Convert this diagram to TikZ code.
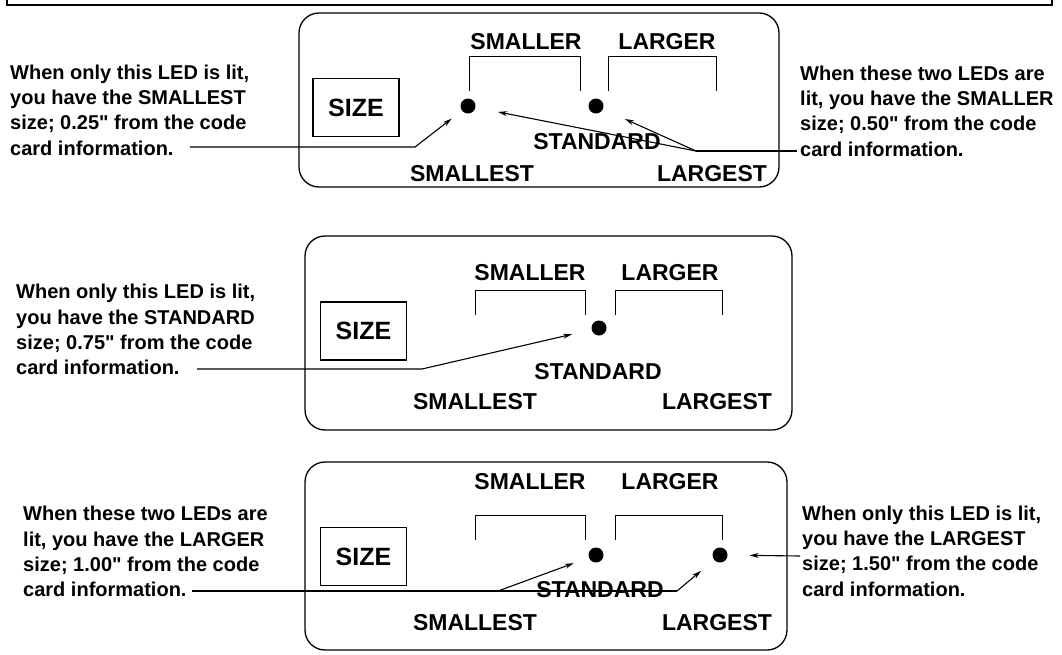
\documentclass[tikz,border=0pt]{standalone}
\usepackage{fontspec}
\setmainfont{Liberation Sans}[Ligatures=TeXOff]
\usetikzlibrary{arrows.meta}
\begin{document}
\begin{tikzpicture}[x=1pt,y=-1pt,
  panel/.style={draw, line width=1.3pt, rounded corners=20pt},
  sizebox/.style={draw, line width=1.2pt, minimum width=86pt, minimum height=58pt, font=\fontsize{25}{30}\selectfont\bfseries, inner sep=0pt},
  lbl/.style={font=\fontsize{23}{28}\selectfont\bfseries, inner sep=0pt},
  info/.style={font=\fontsize{20}{25.3}\selectfont\bfseries, align=left, anchor=west, inner sep=0pt},
  led/.style={circle, fill, inner sep=0pt, minimum size=15pt},
  brk/.style={line width=1pt},
  wire/.style={line width=1.1pt},
  ptr/.style={wire, -{Stealth[length=9pt,width=5pt]}},
]
\useasboundingbox (0,0) rectangle (1062,654);
% top frame remnant
\draw[line width=1.2pt] (7,0) -- (7,5) -- (1052,5) -- (1052,0);

% ---------- Panel 1 ----------
\draw[panel] (299,13) rectangle (779,187);
\node[sizebox] (s1) at (356,107.5) {SIZE};
\node[lbl] (sm1) at (526,42) {SMALLER};
\node[lbl] (la1) at (667,42) {LARGER};
\draw[brk] (469,91) -- (469,56) -- (580,56) -- (580,91);
\draw[brk] (608,91) -- (608,56) -- (716,56) -- (716,91);
\node[led] (d11) at (468,106) {};
\node[led] (d12) at (596,106) {};
\node[lbl] (st1) at (597,142) {STANDARD};
\node[lbl] (ss1) at (472,174) {SMALLEST};
\node[lbl] (lg1) at (712,174) {LARGEST};
\node[info] (t1) at (10,110) {When only this LED is lit,\\you have the SMALLEST\\size; 0.25" from the code\\card information.};
\node[info] (t2) at (800,111) {When these two LEDs are\\lit, you have the SMALLER\\size; 0.50" from the code\\card information.};
\coordinate (c1a) at (190,147);
\coordinate (c1b) at (415,147);
\coordinate (c1j) at (696,151);
\coordinate (c1r) at (797,151);
\draw[ptr, shorten >=13pt] (c1a) -- (c1b) -- (d11);
\draw[wire] (c1r) -- (c1j);
\draw[ptr, shorten >=23pt] (c1j) -- (d11);
\draw[ptr, shorten >=24pt] (c1j) -- (d12);

% ---------- Panel 2 ----------
\draw[panel] (305,236) rectangle (792,430);
\node[sizebox] (s2) at (363.5,331) {SIZE};
\node[lbl] (sm2) at (530,273) {SMALLER};
\node[lbl] (la2) at (670,273) {LARGER};
\draw[brk] (475,315) -- (475,290) -- (585,290) -- (585,315);
\draw[brk] (615,315) -- (615,290) -- (722,290) -- (722,315);
\node[led] (d2) at (599,328) {};
\node[lbl] (st2) at (598,372) {STANDARD};
\node[lbl] (ss2) at (475,402) {SMALLEST};
\node[lbl] (lg2) at (717,402) {LARGEST};
\node[info] (t3) at (16,329.5) {When only this LED is lit,\\you have the STANDARD\\size; 0.75" from the code\\card information.};
\coordinate (c2a) at (197,369);
\coordinate (c2b) at (422,369);
\draw[ptr, shorten >=20pt] (c2a) -- (c2b) -- (d2);

% ---------- Panel 3 ----------
\draw[panel] (305,462) rectangle (787,650);
\node[sizebox] (s3) at (363.5,556.5) {SIZE};
\node[lbl] (sm3) at (530,482) {SMALLER};
\node[lbl] (la3) at (670,482) {LARGER};
\draw[brk] (475,540) -- (475,515) -- (585,515) -- (585,540);
\draw[brk] (615,540) -- (615,515) -- (722,515) -- (722,540);
\node[led] (d31) at (596,555) {};
\node[led] (d32) at (720,555) {};
\node[lbl] (st3) at (600,590) {STANDARD};
\node[lbl] (ss3) at (475,623) {SMALLEST};
\node[lbl] (lg3) at (717,623) {LARGEST};
\node[info] (t4) at (23,551.5) {When these two LEDs are\\lit, you have the LARGER\\size; 1.00" from the code\\card information.};
\node[info] (t5) at (802,551) {When only this LED is lit,\\you have the LARGEST\\size; 1.50" from the code\\card information.};
\coordinate (c3a) at (192,591);
\coordinate (c3b) at (498,591);
\coordinate (c3c) at (677,591);
\coordinate (c3r) at (800,556);
\draw[wire] (c3a) -- (c3c);
\draw[ptr, shorten >=16pt] (c3b) -- (d31);
\draw[ptr, shorten >=17pt] (c3c) -- (d32);
\draw[ptr, shorten >=22pt] (c3r) -- (d32);
\end{tikzpicture}
\end{document}
